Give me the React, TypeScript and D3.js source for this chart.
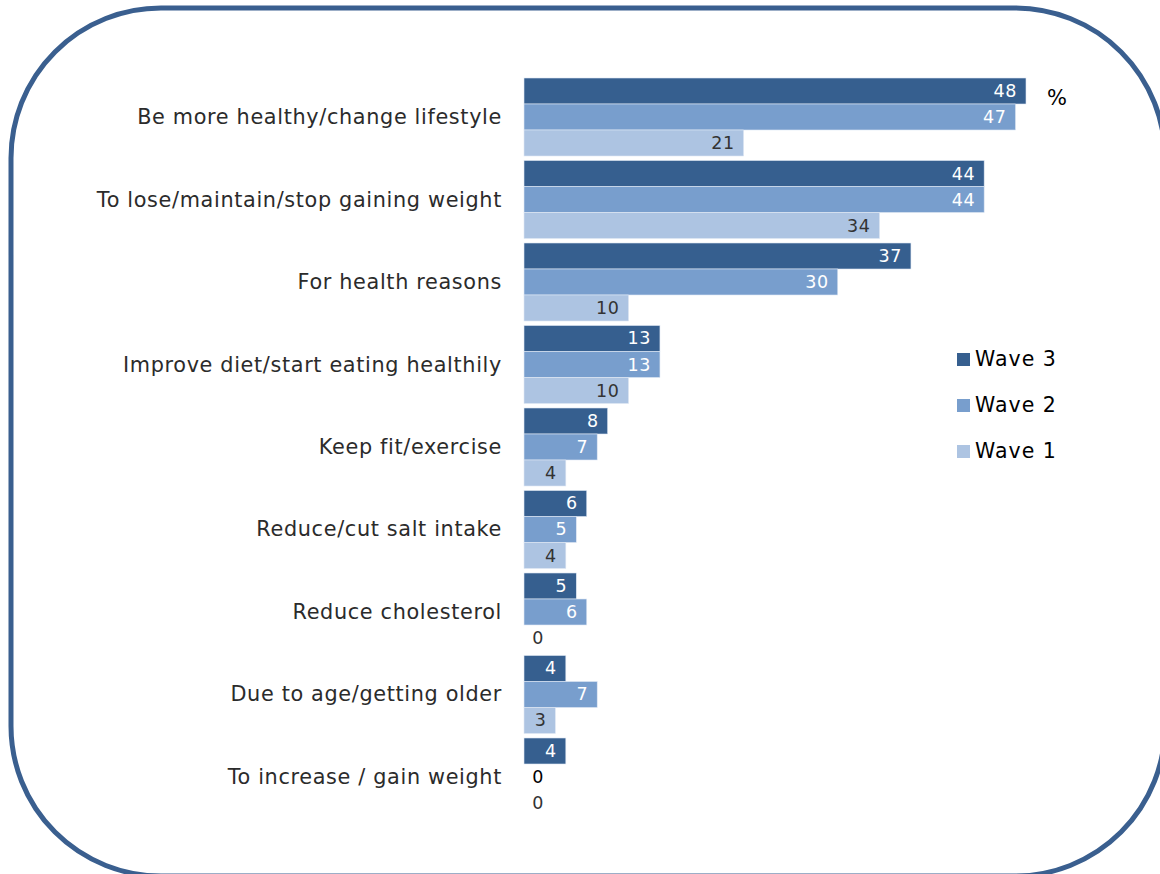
import React from "react";
import * as d3 from "d3";

const categories = [
  "Be more healthy/change lifestyle",
  "To lose/maintain/stop gaining weight",
  "For health reasons",
  "Improve diet/start eating healthily",
  "Keep fit/exercise",
  "Reduce/cut salt intake",
  "Reduce cholesterol",
  "Due to age/getting older",
  "To increase / gain weight",
];
const wave3 = [48, 44, 37, 13, 8, 6, 5, 4, 4];
const wave2 = [47, 44, 30, 13, 7, 5, 6, 7, 0];
const wave1 = [21, 34, 10, 10, 4, 4, 0, 3, 0];
const seriesNames = ["Wave 3", "Wave 2", "Wave 1"];
const seriesColors = ["#365f8f", "#789ecd", "#adc4e2"];
const labelColors = ["#ffffff", "#ffffff", "#333333"];

const FONT = "'DejaVu Sans', Verdana, sans-serif";

export default function App() {
  const W = 1160;
  const H = 874;
  const x = d3.scaleLinear().domain([0, 48]).range([524, 1026]);
  const y = d3
    .scaleBand<string>()
    .domain(categories)
    .range([78, 816])
    .paddingInner(0.0545)
    .paddingOuter(0);
  const sub = d3
    .scaleBand<number>()
    .domain([0, 1, 2])
    .range([0, y.bandwidth()])
    .padding(0);
  const series = [wave3, wave2, wave1];

  return (
    <svg
      width={W}
      height={H}
      style={{ position: "absolute", left: 0, top: 0, background: "#fff" }}
    >
      <rect
        x={11}
        y={8}
        width={1154}
        height={868}
        rx={150}
        ry={150}
        fill="none"
        stroke="#3a5f8f"
        strokeWidth={5}
      />
      {categories.map((c, i) => (
        <text
          key={c}
          x={502}
          y={(y(c) ?? 0) + y.bandwidth() / 2}
          textAnchor="end"
          dominantBaseline="central"
          fontFamily={FONT}
          fontSize={20.8}
          letterSpacing={0.65}
          fill="#2b2b2b"
        >
          {c}
        </text>
      ))}
      {series.map((vals, s) =>
        vals.map((v, i) => {
          const c = categories[i];
          const by = (y(c) ?? 0) + (sub(s) ?? 0);
          const bh = sub.bandwidth();
          const x0 = x(0);
          const x1 = x(v);
          return (
            <g key={`${s}-${i}`}>
              {v > 0 && (
                <rect
                  x={x0}
                  y={by}
                  width={x1 - x0}
                  height={bh}
                  fill={seriesColors[s]}
                  stroke="#dfe8f3"
                  strokeWidth={0.6}
                />
              )}
              <text
                x={v > 0 ? x1 - 9 : x0 + 14}
                y={by + bh / 2}
                textAnchor={v > 0 ? "end" : "middle"}
                dominantBaseline="central"
                fontFamily={FONT}
                fontSize={17.5}
                letterSpacing={0.6}
                fill={v > 0 ? labelColors[s] : s === 1 ? "#000000" : "#333333"}
              >
                {v}
              </text>
            </g>
          );
        })
      )}
      <text
        x={1047}
        y={98}
        fontFamily={FONT}
        fontSize={21}
        fill="#000"
        dominantBaseline="central"
      >
        %
      </text>
      {seriesNames.map((n, s) => (
        <g key={n} transform={`translate(957, ${353 + s * 46})`}>
          <rect width={13} height={13} fill={seriesColors[s]} />
          <text
            x={18}
            y={6}
            dominantBaseline="central"
            fontFamily={FONT}
            fontSize={20.5}
            letterSpacing={1}
            fill="#000"
          >
            {n}
          </text>
        </g>
      ))}
    </svg>
  );
}
